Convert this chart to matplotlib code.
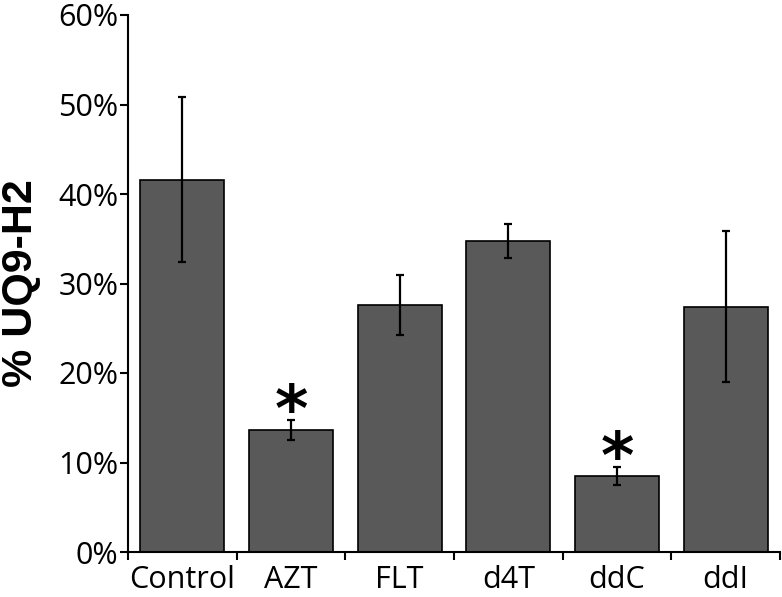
import numpy as np, matplotlib; matplotlib.use("Agg")
import matplotlib.pyplot as plt

drugs = ["Control", "AZT", "FLT", "d4T", "ddC", "ddI"]
uq9h2 = [41.6, 13.6, 27.6, 34.8, 8.5, 27.4]      # % UQ9-H2
err = [9.2, 1.1, 3.35, 1.9, 1.0, 8.45]
signif = [False, True, False, False, True, False]
yticks = [0, 10, 20, 30, 40, 50, 60]

fig = plt.figure(figsize=(7.82, 5.97), dpi=100)
ax = fig.add_axes([128/782, 45/597, 652/782, 537/597])
x = np.arange(len(drugs)) + 0.5
ax.bar(x, uq9h2, width=0.775, color="#595959", edgecolor="black", lw=1.2, zorder=2)
ax.errorbar(x, uq9h2, yerr=err, fmt="none", ecolor="black", elinewidth=1.6,
            capsize=3, capthick=1.6, zorder=3)
for xi, v, e, s in zip(x, uq9h2, err, signif):
    if s:
        ax.annotate("*", (xi, v + e), xytext=(0, -17), textcoords="offset points",
                    ha="center", va="bottom", fontsize=46, fontweight="bold",
                    family="DejaVu Sans")
ax.set_xlim(0, len(drugs))
ax.set_ylim(0, 60)
ax.set_yticks(yticks)
ax.set_yticklabels([f"{t}%" for t in yticks], family="Open Sans", fontsize=22)
ax.set_xticks(np.arange(len(drugs) + 1))
ax.set_xticklabels([])
ax.set_xticks(x, minor=True)
ax.set_xticklabels(drugs, minor=True, family="Open Sans", fontsize=22)
ax.tick_params(axis="x", which="minor", length=0, pad=9)
ax.tick_params(axis="both", which="major", length=6, width=1.5, direction="out")
ax.tick_params(axis="y", pad=1)
for sp in ["top", "right"]:
    ax.spines[sp].set_visible(False)
for sp in ["left", "bottom"]:
    ax.spines[sp].set_linewidth(1.5)
ax.set_ylabel("% UQ9-H2", family="Liberation Sans", fontweight="bold", fontsize=31, labelpad=12)
fig.savefig("out.png", dpi=100)
